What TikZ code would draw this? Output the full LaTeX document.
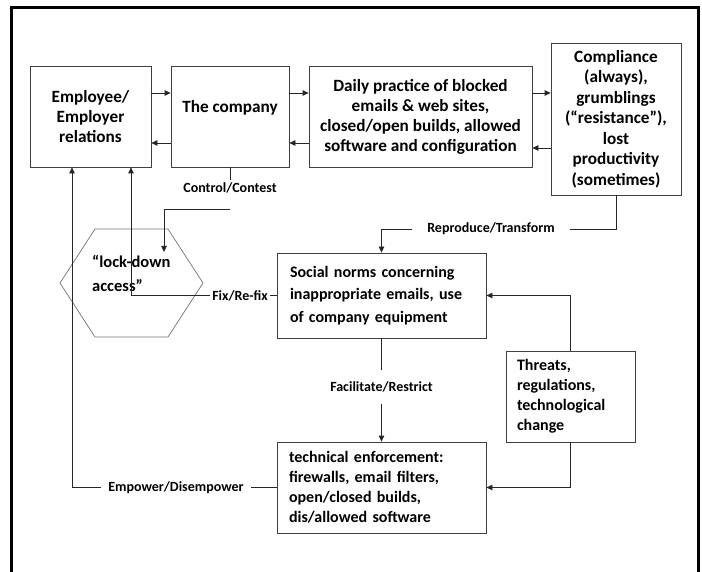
\documentclass[tikz,border=0pt]{standalone}
\usepackage{fontspec}
\setmainfont{Carlito}
\usetikzlibrary{arrows.meta}
\begin{document}
\begin{tikzpicture}[x=1pt,y=-1pt,
  box/.style={draw=black!75, line width=0.8pt, inner sep=0pt, align=center,
    font=\bfseries\fontsize{17.2}{20}\selectfont},
  lbox/.style={box, align=left, font=\bfseries\fontsize{16}{20}\selectfont},
  lbl/.style={font=\bfseries\fontsize{14}{16}\selectfont, inner xsep=2pt, inner ysep=3pt},
  conn/.style={draw=black!85, line width=0.8pt},
  arr/.style={conn, -{Triangle[length=6pt,width=5.5pt]}},
  hexline/.style={draw=black!55, line width=0.7pt}]
\useasboundingbox (0,0) rectangle (702,572);
% frame
\draw[line width=3pt] (11.5,590) -- (11.5,7.5) -- (698.5,7.5) -- (698.5,590);
% boxes
\node[box, minimum width=121pt, minimum height=101pt] (emp) at (90.5,116.5) {Employee/\\Employer\\relations};
\node[box, minimum width=118pt, minimum height=101pt, text depth=20pt] (comp) at (230,116.5) {The company};
\node[box, minimum width=223pt, minimum height=101pt] (daily) at (420.5,116.5) {Daily practice of blocked\\emails \& web sites,\\closed/open builds, allowed\\software and configuration};
\node[box, minimum width=130pt, minimum height=152pt, font=\bfseries\fontsize{17.2}{20.5}\selectfont] (compl) at (616,119) {Compliance\\(always),\\grumblings\\(“resistance”),\\lost\\productivity\\(sometimes)};
\node[lbox, text width=183pt, inner xsep=13pt, minimum height=85pt, font=\bfseries\fontsize{16}{22.3}\selectfont] (social) at (381.5,295.5) {Social norms concerning\\inappropriate emails, use\\of company equipment};
\node[lbox, text width=107pt, inner xsep=11pt, minimum height=91pt] (threats) at (570.5,396.5) {Threats,\\regulations,\\technological\\change};
\node[lbox, text width=185pt, inner xsep=12pt, minimum height=91pt] (tech) at (381.5,487.5) {technical enforcement:\\firewalls, email filters,\\open/closed builds,\\dis/allowed software};
% hexagon
\draw[hexline] (60,283) -- (95,229) -- (168,229) -- (203,283) -- (168,337) -- (95,337) -- cycle;
\node[font=\bfseries\fontsize{16.5}{24}\selectfont, align=left, anchor=west, inner sep=0pt] (lock) at (92,273.5) {“lock-down\\access”};
\coordinate (lockin) at (164,252);
% labels
\node[lbl] (ctrlL) at (230,188) {Control/Contest};
\node[lbl, inner xsep=15pt] (reproL) at (491,229) {Reproduce/Transform};
\node[lbl] (fixL) at (240,295.5) {Fix/Re-fix};
\node[lbl, inner ysep=12pt] (facL) at (381.5,387) {Facilitate/Restrict};
\node[lbl, inner xsep=7pt] (empL) at (176,487.5) {Empower/Disempower};
% top row arrows
\draw[arr] ([yshift=23.5pt]emp.east) -- ([yshift=23.5pt]comp.west);
\draw[arr] ([yshift=-26.5pt]comp.west) -- ([yshift=-26.5pt]emp.east);
\draw[arr] ([yshift=23.5pt]comp.east) -- ([yshift=23.5pt]daily.west);
\draw[arr] ([yshift=-26.5pt]daily.west) -- ([yshift=-26.5pt]comp.east);
\draw[arr] ([yshift=23.5pt]daily.east) -- ([yshift=26pt]compl.west);
\draw[arr] ([yshift=-29pt]compl.west) -- ([yshift=-31.5pt]daily.east);
% control / contest
\coordinate (cbend) at (230,209);
\draw[conn] (comp.south) -- (ctrlL.north);
\draw[arr] (cbend) -| (lockin);
% reproduce / transform
\draw[conn] (compl.south) |- (reproL.east);
\draw[arr] (reproL.west) -| (social.north);
% fix / re-fix
\draw[conn] (social.west) -- (fixL.east);
\draw[arr] (fixL.west) -| ([xshift=40.5pt]emp.south);
% threats
\draw[arr] (threats.north) |- (social.east);
\draw[arr] (threats.south) |- (tech.east);
% facilitate / restrict
\draw[conn] (social.south) -- (facL.north);
\draw[arr] (facL.south) -- (tech.north);
% empower / disempower
\draw[conn] (tech.west) -- (empL.east);
\draw[arr] (empL.west) -| ([xshift=-18.5pt]emp.south);
\end{tikzpicture}
\end{document}
